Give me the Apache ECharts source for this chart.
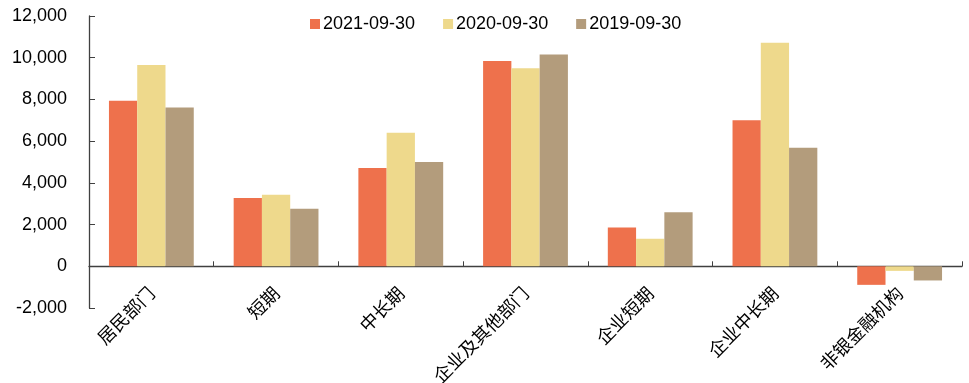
<!DOCTYPE html>
<html>
<head>
<meta charset="utf-8">
<script src="https://cdn.jsdelivr.net/npm/echarts@6/dist/echarts.min.js"></script>
<style>
  html, body { margin: 0; padding: 0; background: #fff; }
  #chart { width: 969px; height: 383px; }
</style>
</head>
<body>
<div id="chart"></div>
<script>
// Categories on the x axis
const categories = ['居民部门', '短期', '中长期', '企业及其他部门', '企业短期', '企业中长期', '非银金融机构'];

// Series names
const seriesNames = ['2021-09-30', '2020-09-30', '2019-09-30'];

// Values per period
const values2021 = [7940, 3270, 4710, 9840, 1860, 7000, -890];
const values2020 = [9650, 3430, 6400, 9490, 1320, 10720, -220];
const values2019 = [7610, 2760, 5000, 10160, 2590, 5680, -680];

// Y axis range
const yMin = -2000;
const yMax = 12000;
const yStep = 2000;

const colors = ['#EE714C', '#EED98C', '#B39C7C'];

const chart = echarts.init(document.getElementById('chart'));

const fmt = v => v.toLocaleString('en-US');

const seriesData = [values2021, values2020, values2019];

chart.setOption({
  animation: false,
  color: colors,
  legend: {
    top: 10,
    left: 305,
    itemWidth: 10,
    itemHeight: 10,
    itemGap: 28,
    icon: 'rect',
    textStyle: { fontFamily: 'Liberation Sans, Arial, sans-serif', fontSize: 18, color: '#000', padding: [0, 0, 0, -2] },
    data: seriesNames
  },
  grid: { left: 89, right: 7, top: 16, bottom: 75, containLabel: false, outerBoundsMode: 'none' },
  xAxis: {
    type: 'category',
    data: categories,
    axisLine: { onZero: true, lineStyle: { color: '#404040', width: 1.3 } },
    axisTick: { show: true, inside: true, length: 5, alignWithLabel: false, lineStyle: { color: '#404040' } },
    axisLabel: {
      rotate: 45,
      margin: -18,
      interval: 0,
      fontFamily: 'Noto Sans CJK SC, sans-serif',
      fontSize: 18,
      color: '#000'
    },
    splitLine: { show: false }
  },
  yAxis: {
    type: 'value',
    min: yMin,
    max: yMax,
    interval: yStep,
    axisLine: { show: true, lineStyle: { color: '#404040', width: 1.3 } },
    axisTick: { show: true, inside: true, length: 6, lineStyle: { color: '#404040' } },
    axisLabel: {
      margin: 22,
      fontFamily: 'Liberation Sans, Arial, sans-serif',
      fontSize: 18,
      color: '#000',
      formatter: fmt
    },
    splitLine: { show: false }
  },
  series: seriesNames.map((name, i) => ({
    name: name,
    type: 'bar',
    data: seriesData[i],
    barGap: '0%',
    barCategoryGap: '32%'
  }))
});
</script>
</body>
</html>
